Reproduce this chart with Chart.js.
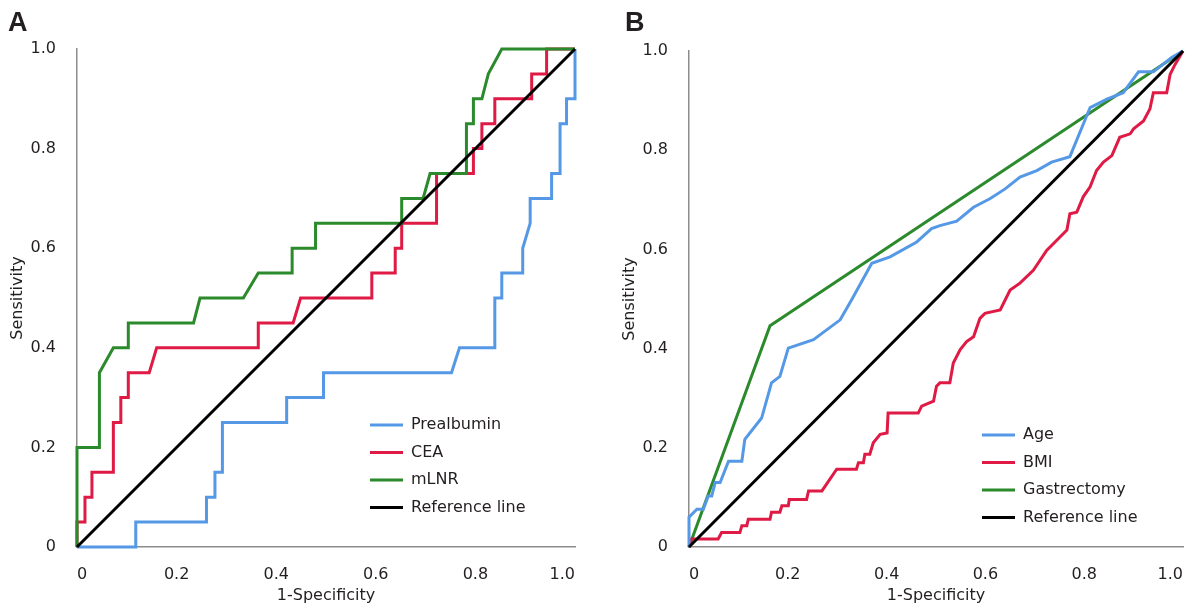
<!DOCTYPE html>
<html>
<head>
<meta charset="utf-8">
<script src="https://cdn.jsdelivr.net/npm/chart.js@4.4.0/dist/chart.umd.min.js"></script>
<style>
  html, body { margin: 0; padding: 0; background: #fff; }
  body { width: 1194px; height: 610px; position: relative; overflow: hidden; }
  .panel { position: absolute; top: 0; }
  .tag { position: absolute; top: 7px; font: bold 27px "Liberation Sans", Arial, sans-serif; color: #231f20; }
</style>
</head>
<body>
<div class="panel" style="left:0"><canvas id="chartA" width="597" height="610"></canvas></div>
<div class="panel" style="left:612px"><canvas id="chartB" width="582" height="610"></canvas></div>
<div class="tag" style="left:8px">A</div>
<div class="tag" style="left:625px">B</div>
<script>
// --- Panel A: Prealbumin / CEA / mLNR ---
const prealbuminX = [0, 0.118, 0.118, 0.26, 0.26, 0.277, 0.277, 0.292, 0.292, 0.421, 0.421, 0.495, 0.495, 0.752, 0.768, 0.839, 0.839, 0.853, 0.853, 0.895, 0.895, 0.91, 0.91, 0.953, 0.953, 0.97, 0.97, 0.983, 0.983, 1, 1];
const prealbuminY = [0, 0, 0.05, 0.05, 0.10, 0.10, 0.15, 0.15, 0.25, 0.25, 0.30, 0.30, 0.35, 0.35, 0.40, 0.40, 0.50, 0.50, 0.55, 0.55, 0.60, 0.65, 0.70, 0.70, 0.75, 0.75, 0.85, 0.85, 0.90, 0.90, 1];

const ceaX = [0, 0, 0.016, 0.016, 0.03, 0.03, 0.073, 0.073, 0.088, 0.088, 0.103, 0.103, 0.145, 0.16, 0.364, 0.364, 0.434, 0.449, 0.592, 0.592, 0.639, 0.639, 0.652, 0.652, 0.722, 0.722, 0.796, 0.796, 0.813, 0.813, 0.839, 0.839, 0.913, 0.913, 0.943, 0.943, 1];
const ceaY = [0, 0.05, 0.05, 0.10, 0.10, 0.15, 0.15, 0.25, 0.25, 0.30, 0.30, 0.35, 0.35, 0.40, 0.40, 0.45, 0.45, 0.50, 0.50, 0.55, 0.55, 0.60, 0.60, 0.65, 0.65, 0.75, 0.75, 0.80, 0.80, 0.85, 0.85, 0.90, 0.90, 0.95, 0.95, 1, 1];

const mlnrX = [0, 0, 0.045, 0.045, 0.073, 0.103, 0.103, 0.234, 0.247, 0.334, 0.364, 0.432, 0.432, 0.479, 0.479, 0.652, 0.652, 0.695, 0.709, 0.782, 0.782, 0.796, 0.796, 0.813, 0.826, 0.853, 1];
const mlnrY = [0, 0.20, 0.20, 0.35, 0.40, 0.40, 0.45, 0.45, 0.50, 0.50, 0.55, 0.55, 0.60, 0.60, 0.65, 0.65, 0.70, 0.70, 0.75, 0.75, 0.85, 0.85, 0.90, 0.90, 0.95, 1, 1];

// --- Panel B: Age / BMI / Gastrectomy ---
const ageX = [0, 0, 0.016, 0.029, 0.039, 0.046, 0.053, 0.063, 0.08, 0.107, 0.113, 0.147, 0.167, 0.184, 0.201, 0.252, 0.306, 0.329, 0.37, 0.407, 0.461, 0.491, 0.508, 0.542, 0.576, 0.609, 0.64, 0.67, 0.704, 0.734, 0.771, 0.812, 0.846, 0.879, 0.91, 0.94, 0.977, 1];
const ageY = [0, 0.06, 0.076, 0.076, 0.103, 0.103, 0.13, 0.13, 0.173, 0.173, 0.217, 0.26, 0.331, 0.344, 0.401, 0.418, 0.458, 0.498, 0.572, 0.585, 0.615, 0.642, 0.648, 0.657, 0.685, 0.702, 0.722, 0.746, 0.759, 0.776, 0.787, 0.886, 0.903, 0.916, 0.958, 0.958, 0.987, 1];

const bmiX = [0, 0.005, 0.059, 0.066, 0.103, 0.107, 0.117, 0.12, 0.164, 0.167, 0.184, 0.188, 0.201, 0.203, 0.238, 0.242, 0.269, 0.299, 0.339, 0.343, 0.353, 0.356, 0.366, 0.373, 0.387, 0.401, 0.403, 0.464, 0.471, 0.495, 0.501, 0.508, 0.528, 0.535, 0.549, 0.562, 0.576, 0.589, 0.599, 0.63, 0.65, 0.67, 0.697, 0.724, 0.744, 0.765, 0.771, 0.785, 0.798, 0.812, 0.825, 0.839, 0.856, 0.872, 0.893, 0.9, 0.92, 0.933, 0.94, 0.967, 0.974, 0.984, 1];
const bmiY = [0, 0.016, 0.016, 0.029, 0.029, 0.043, 0.043, 0.056, 0.056, 0.07, 0.07, 0.083, 0.083, 0.096, 0.096, 0.113, 0.113, 0.157, 0.157, 0.17, 0.17, 0.187, 0.187, 0.21, 0.227, 0.23, 0.27, 0.27, 0.284, 0.294, 0.324, 0.331, 0.331, 0.371, 0.398, 0.414, 0.424, 0.461, 0.471, 0.478, 0.518, 0.532, 0.558, 0.598, 0.618, 0.639, 0.672, 0.675, 0.706, 0.726, 0.759, 0.776, 0.789, 0.826, 0.833, 0.843, 0.859, 0.883, 0.916, 0.916, 0.953, 0.973, 1];

const gastrectomyX = [0, 0.164, 1];
const gastrectomyY = [0, 0.446, 1];

const referenceX = [0, 1];
const referenceY = [0, 1];

const tickValues = [0, 0.2, 0.4, 0.6, 0.8, 1.0];

const BLUE = '#5599e6';
const RED = '#de1a45';
const GREEN = '#2b8a2b';
const TEXT = '#231f20';

Chart.defaults.font.family = '"DejaVu Sans", Verdana, sans-serif';
Chart.defaults.font.size = 16;
Chart.defaults.color = TEXT;

function pts(xs, ys) {
    return xs.map((x, i) => ({ x: x, y: ys[i] }));
}

function line(label, xs, ys, color, order) {
    return {
        label: label,
        data: pts(xs, ys),
        borderColor: color,
        backgroundColor: color,
        borderWidth: 3,
        pointRadius: 0,
        tension: 0,
        fill: false,
        clip: 6,
        order: order
    };
}

// moves the built-in legend to a fixed spot inside the plot
const legendSpot = {
    id: 'legendSpot',
    afterLayout(chart, args, opts) {
        const lg = chart.legend;
        if (!lg) return;
        const pad = lg.options.labels.padding;
        lg.left = opts.x - pad;
        lg.top = opts.y - pad;
        lg.bottom = chart.height;
        lg.right = chart.width;
    }
};

function axis(title, isX, size) {
    return {
        type: 'linear',
        min: 0,
        max: 1,
        afterBuildTicks: s => { s.ticks = tickValues.map(v => ({ value: v })); },
        afterFit: s => {
            if (isX) { s.height = size; s.paddingLeft = 0; s.paddingRight = 0; }
            else { s.width = size; s.paddingTop = 0; s.paddingBottom = 0; }
        },
        grid: { display: false },
        border: { display: true, color: '#8c8c8c', width: 1.5 },
        ticks: {
            padding: isX ? 10 : 13,
            align: isX ? 'inner' : 'center',
            color: TEXT,
            callback: v => v === 0 ? '0' : v.toFixed(1)
        },
        title: {
            display: true,
            text: title,
            color: TEXT,
            font: { size: 16 },
            padding: isX ? { top: 4, bottom: 4.4 } : { top: 8, bottom: 0 }
        }
    };
}

function makeChart(id, datasets, pad, legendX, legendY) {
    return new Chart(document.getElementById(id), {
        type: 'line',
        data: { datasets: datasets },
        options: {
            responsive: false,
            animation: false,
            layout: { padding: pad },
            scales: {
                x: axis('1-Specificity', true, 63),
                y: axis('Sensitivity', false, 77)
            },
            plugins: {
                tooltip: { enabled: false },
                legend: {
                    position: 'chartArea',
                    align: 'start',
                    labels: {
                        usePointStyle: true,
                        pointStyle: 'line',
                        pointStyleWidth: 33,
                        padding: 11.5,
                        color: TEXT,
                        font: { size: 16 },
                        sort: (a, b) => a.datasetIndex - b.datasetIndex
                    }
                },
                legendSpot: { x: legendX, y: legendY }
            }
        },
        plugins: [legendSpot]
    });
}

makeChart('chartA', [
    line('Prealbumin', prealbuminX, prealbuminY, BLUE, 3),
    line('CEA', ceaX, ceaY, RED, 2),
    line('mLNR', mlnrX, mlnrY, GREEN, 1),
    line('Reference line', referenceX, referenceY, '#000000', 0)
], { top: 49, right: 22, bottom: 0, left: 0 }, 370, 417);

makeChart('chartB', [
    line('Age', ageX, ageY, BLUE, 1),
    line('BMI', bmiX, bmiY, RED, 2),
    line('Gastrectomy', gastrectomyX, gastrectomyY, GREEN, 3),
    line('Reference line', referenceX, referenceY, '#000000', 0)
], { top: 51, right: 11, bottom: 0, left: 0 }, 370, 427);
</script>
</body>
</html>
